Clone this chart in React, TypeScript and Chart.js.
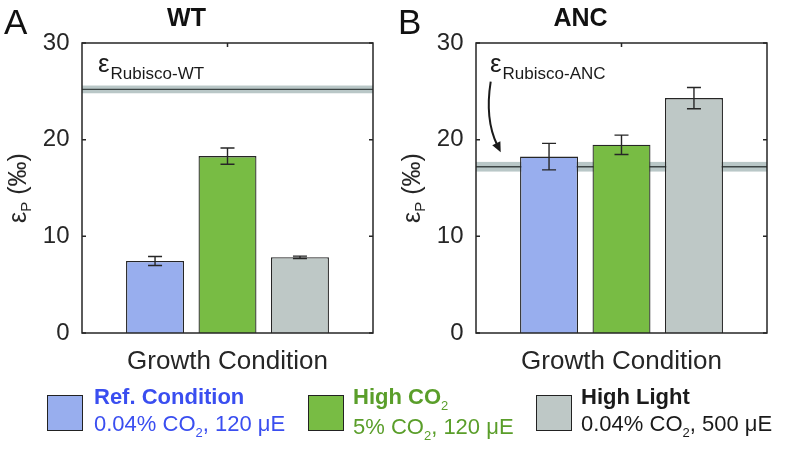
import React, { useEffect, useRef } from 'react';
import { Chart, registerables } from 'chart.js';

Chart.register(...registerables);

const FONT = "'Liberation Sans', Arial, Helvetica, sans-serif";
const INK = '#262626';

// ---- data ----
const conditionNames = ['Ref. Condition', 'High CO₂', 'High Light'];
const conditionDetails = ['0.04% CO|2|, 120 μE', '5% CO|2|, 120 μE', '0.04% CO|2|, 500 μE'];
const barColors = ['#98aeee', '#78bc44', '#bec8c6'];
const legendTextColors = ['#3a4ef0', '#5a9e2a', '#1a1a1a'];
const xCategories = ['Growth Condition'];
const yTickValues = [0, 10, 20, 30];

const wtMeans = [7.45, 18.3, 7.83];
const wtErrors = [0.47, 0.84, 0.12];
const ancMeans = [18.25, 19.47, 24.3];
const ancErrors = [1.37, 1.0, 1.1];

const rubiscoWT = 25.2;
const rubiscoWTBand = 0.4;
const rubiscoANC = 17.2;
const rubiscoANCBand = 0.5;

// arrow annotation (panel B): y in data units, x as offset from plot left
const arrowYs = [26.0, 22.1, 18.7];
const arrowXOffsets = [14.7, 8.7, 24.7];

type PanelProps = {
  letter: string;
  title: string;
  means: number[];
  errors: number[];
  band: number;
  bandErr: number;
  sub: string;
  labelLeft: number;
  arrow: boolean;
  left: number;
};

function makePlugin(p: PanelProps) {
  return {
    id: 'annot',
    beforeDatasetsDraw(chart: any) {
      const { ctx, chartArea: a, scales } = chart;
      const y = scales.y;
      ctx.save();
      const yt = y.getPixelForValue(p.band + p.bandErr);
      const yb = y.getPixelForValue(p.band - p.bandErr);
      ctx.fillStyle = '#b9c7c7';
      ctx.fillRect(a.left, yt, a.right - a.left, yb - yt);
      const ym = y.getPixelForValue(p.band);
      ctx.strokeStyle = '#3d4545';
      ctx.lineWidth = 1.3;
      ctx.beginPath();
      ctx.moveTo(a.left, ym);
      ctx.lineTo(a.right, ym);
      ctx.stroke();
      ctx.restore();
    },
    afterDatasetsDraw(chart: any) {
      const { ctx, chartArea: a, scales } = chart;
      const y = scales.y;
      ctx.save();
      ctx.strokeStyle = INK;
      ctx.lineWidth = 1.4;
      // error bars
      p.means.forEach((m, i) => {
        const el = chart.getDatasetMeta(i).data[0];
        const x = el.x;
        const e = p.errors[i];
        const y1 = y.getPixelForValue(m + e);
        const y2 = y.getPixelForValue(m - e);
        ctx.beginPath();
        ctx.moveTo(x, y1);
        ctx.lineTo(x, y2);
        ctx.moveTo(x - 7, y1);
        ctx.lineTo(x + 7, y1);
        ctx.moveTo(x - 7, y2);
        ctx.lineTo(x + 7, y2);
        ctx.stroke();
      });
      // box
      ctx.lineWidth = 1.5;
      ctx.strokeRect(a.left, a.top, a.right - a.left, a.bottom - a.top);
      // inward ticks
      ctx.beginPath();
      yTickValues.forEach((v) => {
        const py = y.getPixelForValue(v);
        ctx.moveTo(a.left, py);
        ctx.lineTo(a.left + 4, py);
        ctx.moveTo(a.right, py);
        ctx.lineTo(a.right - 4, py);
      });
      const cx = (a.left + a.right) / 2;
      ctx.moveTo(cx, a.top);
      ctx.lineTo(cx, a.top + 4);
      ctx.stroke();
      // arrow
      if (p.arrow) {
        const pts = arrowYs.map((v, i) => [a.left + arrowXOffsets[i], y.getPixelForValue(v)]);
        const [s, c, t] = pts;
        let dx = t[0] - c[0];
        let dy = t[1] - c[1];
        const len = Math.hypot(dx, dy);
        dx /= len;
        dy /= len;
        const hl = 10;
        const hw = 4.5;
        const bx = t[0] - dx * hl;
        const by = t[1] - dy * hl;
        ctx.strokeStyle = '#1a1a1a';
        ctx.lineWidth = 2;
        ctx.beginPath();
        ctx.moveTo(s[0], s[1]);
        ctx.quadraticCurveTo(c[0], c[1], bx + dx * 2, by + dy * 2);
        ctx.stroke();
        ctx.fillStyle = '#1a1a1a';
        ctx.beginPath();
        ctx.moveTo(t[0], t[1]);
        ctx.lineTo(bx - dy * hw, by + dx * hw);
        ctx.lineTo(bx + dy * hw, by - dx * hw);
        ctx.closePath();
        ctx.fill();
      }
      ctx.restore();
    },
  };
}

function Panel(p: PanelProps) {
  const ref = useRef<HTMLCanvasElement>(null);
  useEffect(() => {
    if (!ref.current) return;
    const chart = new Chart(ref.current, {
      type: 'bar',
      data: {
        labels: xCategories,
        datasets: conditionNames.map((name, i) => ({
          label: name,
          data: [p.means[i]],
          backgroundColor: barColors[i],
          borderColor: INK,
          borderWidth: 1.3,
          categoryPercentage: 0.747,
          barPercentage: 0.8,
        })),
      },
      options: {
        animation: false,
        responsive: false,
        maintainAspectRatio: false,
        layout: { padding: { left: 0, right: 21, top: 0, bottom: 0 } },
        plugins: {
          legend: { display: false },
          tooltip: { enabled: false },
          title: {
            display: true,
            text: p.title,
            color: '#111',
            font: { family: FONT, size: 25, weight: 'bold' },
            padding: { top: 4, bottom: 9 },
          },
        },
        scales: {
          x: {
            grid: { display: false },
            border: { display: false },
            ticks: { display: false },
            title: {
              display: true,
              text: 'Growth Condition',
              color: INK,
              font: { family: FONT, size: 26 },
              padding: { top: 0, bottom: 13 },
            },
            afterFit: (s: any) => {
              s.height = 57;
            },
          },
          y: {
            min: 0,
            max: 30,
            afterBuildTicks: (s: any) => {
              s.ticks = yTickValues.map((v) => ({ value: v }));
            },
            grid: { display: false, drawTicks: false },
            border: { display: false },
            ticks: { color: INK, font: { family: FONT, size: 24 }, padding: 12.5 },
            afterFit: (s: any) => {
              s.width = 82;
            },
          },
        },
      } as any,
      plugins: [makePlugin(p)],
    });
    return () => chart.destroy();
  }, []);

  return (
    <div style={{ position: 'absolute', left: p.left, top: 0, width: 394, height: 390 }}>
      <canvas ref={ref} width={394} height={390} style={{ width: 394, height: 390, display: 'block' }} />
      <div
        style={{
          position: 'absolute', left: 4, top: 3.5, fontFamily: FONT, fontSize: 35,
          lineHeight: '35px', color: '#111',
        }}
      >
        {p.letter}
      </div>
      <div
        style={{
          position: 'absolute', left: 19, top: 188, fontFamily: FONT, fontSize: 25,
          lineHeight: '30px', color: INK, whiteSpace: 'nowrap',
          transform: 'translate(-50%, -50%) rotate(-90deg)',
        }}
      >
        ε<span style={{ fontSize: 15, position: 'relative', top: 5 }}>P</span> (‰)
      </div>
      <div
        style={{
          position: 'absolute', left: p.labelLeft, top: 49.7, fontFamily: FONT, fontSize: 26,
          lineHeight: '26px', color: '#1a1a1a', whiteSpace: 'nowrap',
        }}
      >
        ε<span style={{ fontSize: 17, position: 'relative', top: 7.3, marginLeft: 1 }}>{p.sub}</span>
      </div>
    </div>
  );
}

function renderDetail(s: string) {
  const parts = s.split('|');
  return parts.map((t, i) =>
    i % 2 === 1 ? (
      <span key={i} style={{ fontSize: 13, position: 'relative', top: 6 }}>{t}</span>
    ) : (
      <span key={i}>{t}</span>
    )
  );
}

function renderName(s: string) {
  if (s.endsWith('₂')) {
    return (
      <>
        {s.slice(0, -1)}
        <span style={{ fontSize: 13, position: 'relative', top: 6, fontWeight: 'normal' }}>2</span>
      </>
    );
  }
  return s;
}

const swatchLefts = [47, 308, 536];
const textLefts = [94, 353, 581];

export default function App() {
  return (
    <div style={{ position: 'absolute', left: 0, top: 0, width: 789, height: 450, background: '#fff', overflow: 'hidden' }}>
      <Panel
        letter="A" title="WT" means={wtMeans} errors={wtErrors} band={rubiscoWT} bandErr={rubiscoWTBand}
        sub="Rubisco-WT" labelLeft={98} arrow={false} left={0}
      />
      <Panel
        letter="B" title="ANC" means={ancMeans} errors={ancErrors} band={rubiscoANC} bandErr={rubiscoANCBand}
        sub="Rubisco-ANC" labelLeft={96} arrow={true} left={394}
      />
      {conditionNames.map((name, i) => (
        <React.Fragment key={name}>
          <div
            style={{
              position: 'absolute', left: swatchLefts[i], top: 395, width: 36, height: 36,
              boxSizing: 'border-box', border: '1.5px solid #222', background: barColors[i],
            }}
          />
          <div
            style={{
              position: 'absolute', left: textLefts[i], top: 384.1, fontFamily: FONT, fontSize: 22,
              lineHeight: '26.5px', color: legendTextColors[i], whiteSpace: 'nowrap',
            }}
          >
            <div style={{ fontWeight: 'bold' }}>{renderName(name)}</div>
            <div>{renderDetail(conditionDetails[i])}</div>
          </div>
        </React.Fragment>
      ))}
    </div>
  );
}
